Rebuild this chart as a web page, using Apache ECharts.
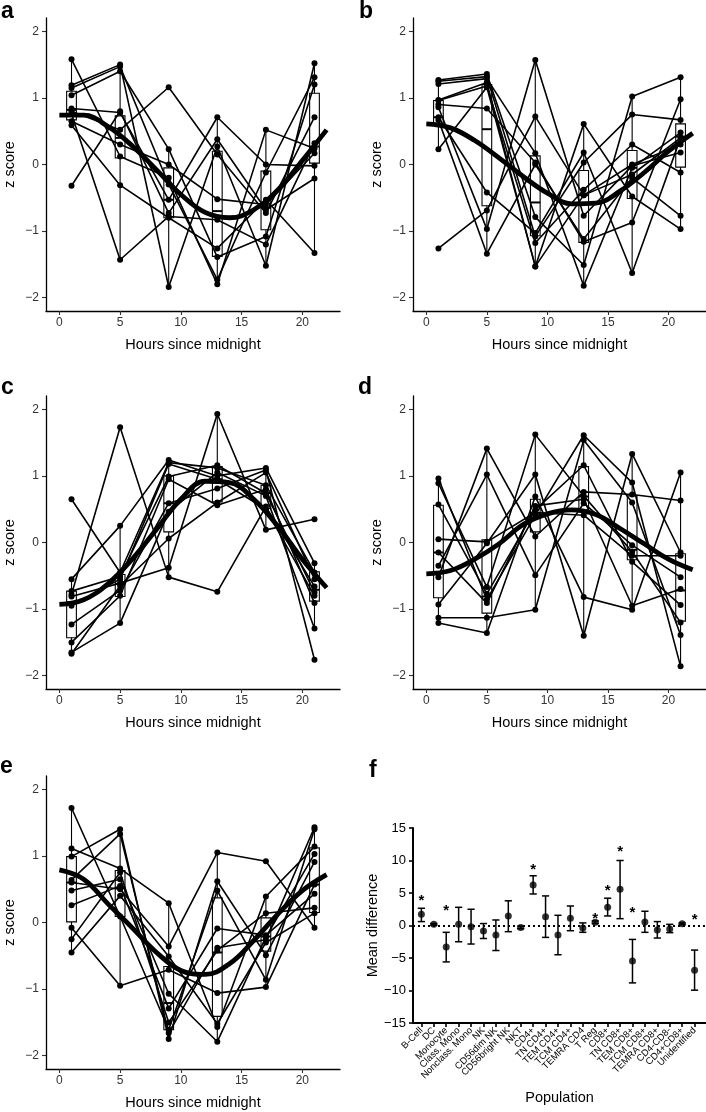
<!DOCTYPE html>
<html>
<head>
<meta charset="utf-8">
<script src="https://cdn.jsdelivr.net/npm/echarts@6/dist/echarts.min.js"></script>
<style>
html, body { margin: 0; padding: 0; background: #fff; }
#container { width: 706px; height: 1112px; }
</style>
</head>
<body>
<div id="container"></div>
<script>
var hours = [1, 5, 9, 13, 17, 21];
var hourTicks = [0, 5, 10, 15, 20];
var zTicks = [-2, -1, 0, 1, 2];
var fitHours = [0, 2, 4, 6, 8, 10, 12, 14, 16, 18, 20, 22];

// one row per subject, values at 1, 5, 9, 13, 17, 21 h
var subjectsA = [
    [1.58, 0.12, -0.20, -1.80, 0.52, 0.24],
    [1.19, 1.50, -1.84, 0.27, -1.52, 1.52],
    [1.15, 1.47, -0.30, -1.73, -0.12, 1.31],
    [1.04, 1.40, 0.23, -1.39, -1.08, 1.20],
    [0.84, 0.78, -0.53, 0.71, 0.00, -0.02],
    [0.80, 0.52, 1.16, 0.15, -0.73, 0.71],
    [0.76, -1.43, -0.78, -0.83, -1.20, 0.32],
    [0.65, 0.30, 0.00, -0.52, -0.60, 0.17],
    [0.59, -0.31, -0.80, -1.26, -0.53, -1.33],
    [-0.32, 0.80, -0.73, 0.38, -0.68, -0.21]
];
// low whisker, Q1, median, Q3, high whisker
var boxesA = [
    [0.59, 0.67, 0.82, 1.10, 1.58],
    [-1.43, 0.10, 0.40, 0.73, 1.50],
    [-1.84, -0.80, -0.53, -0.05, 0.23],
    [-1.80, -1.38, -0.70, 0.20, 0.71],
    [-1.52, -0.98, -0.65, -0.10, 0.52],
    [-1.33, 0.02, 0.27, 1.07, 1.52]
];
var fitA = [0.74, 0.74, 0.57, 0.28, -0.08, -0.45, -0.72, -0.80, -0.68, -0.38, 0.06, 0.52];

var subjectsB = [
    [1.27, 1.36, -0.79, -1.51, 1.02, 1.31],
    [1.25, 1.32, -1.08, 0.03, 0.75, 0.67],
    [1.21, 1.29, 0.17, -1.82, -0.05, 0.48],
    [0.97, 1.23, -1.53, 0.61, -0.48, -0.97],
    [0.96, 1.18, -1.18, -0.38, 0.30, -0.12],
    [0.90, 0.84, 0.03, -1.16, -0.87, 0.98],
    [0.86, -0.97, 1.57, -0.77, -0.02, 0.18],
    [0.71, -0.42, -1.03, 0.18, -1.63, 0.40],
    [0.67, -1.34, 0.00, -1.12, -0.20, -0.77],
    [0.23, 1.16, -1.53, -0.46, 0.00, 0.30],
    [-1.26, -0.69, 0.72, -0.46, -0.15, 0.40]
];
var boxesB = [
    [0.23, 0.62, 0.71, 0.96, 1.27],
    [-1.34, -0.62, 0.53, 1.20, 1.36],
    [-1.53, -1.07, -0.57, 0.13, 1.57],
    [-1.82, -1.17, -0.46, -0.09, 0.61],
    [-1.63, -0.51, -0.05, 0.21, 1.02],
    [-0.97, -0.04, 0.42, 0.61, 1.31]
];
var fitB = [0.61, 0.55, 0.36, 0.10, -0.18, -0.43, -0.59, -0.58, -0.40, -0.12, 0.20, 0.47];

var subjectsC = [
    [0.65, -0.45, 1.20, 1.12, 0.86, -0.45],
    [-0.78, 1.73, -0.52, -0.74, 0.54, -0.66],
    [-0.55, 0.25, 1.24, 1.00, 1.12, -0.31],
    [-0.73, -0.51, 0.99, 1.16, 0.74, -0.75],
    [-0.81, -0.61, -0.38, 1.93, 0.19, 0.35],
    [-1.23, -0.72, 0.59, 0.81, 1.09, -1.76],
    [-1.50, -0.80, 0.95, 0.56, 0.80, -0.91],
    [-1.65, -1.21, 0.46, 1.05, 0.70, -1.29],
    [-1.67, -0.65, 0.06, 0.60, 1.05, -0.55],
    [-0.95, -0.55, 1.18, 0.95, 0.50, -0.80]
];
var boxesC = [
    [-1.67, -1.43, -0.90, -0.73, -0.55],
    [-1.21, -0.81, -0.62, -0.48, 0.25],
    [-0.52, 0.16, 0.59, 1.00, 1.24],
    [0.56, 0.61, 0.95, 1.14, 1.93],
    [0.19, 0.51, 0.74, 0.86, 1.12],
    [-1.29, -0.88, -0.71, -0.44, -0.31]
];
var fitC = [-0.93, -0.86, -0.62, -0.25, 0.20, 0.65, 0.92, 0.90, 0.65, 0.24, -0.25, -0.68];

var subjectsD = [
    [0.96, -0.86, 0.41, 1.61, 0.90, -1.86],
    [0.89, -0.67, 1.62, 0.70, -0.14, -1.20],
    [0.57, -0.77, 0.49, 1.16, -0.29, -0.94],
    [0.05, 0.01, 0.45, 0.41, -0.20, -0.20],
    [-0.35, 1.02, -0.49, 0.59, -0.04, -0.52],
    [-0.52, 1.41, 0.09, 0.76, 0.72, 0.63],
    [-0.93, -0.01, 1.02, -1.40, 1.33, -0.15],
    [-1.13, -1.13, -1.01, 1.54, 0.60, -1.39],
    [-1.21, -1.36, 0.69, -0.82, -1.01, 1.05],
    [-0.15, -0.91, 0.55, 0.65, -0.95, -0.70]
];
var boxesD = [
    [-1.21, -0.83, -0.15, 0.56, 0.96],
    [-1.36, -1.06, -0.81, 0.04, 1.41],
    [-1.01, 0.16, 0.44, 0.65, 1.62],
    [-1.40, 0.49, 0.69, 1.14, 1.61],
    [-1.01, -0.26, -0.11, 0.70, 1.33],
    [-1.86, -1.18, -0.72, -0.17, 1.05]
];
var fitD = [-0.47, -0.42, -0.25, -0.02, 0.27, 0.43, 0.49, 0.42, 0.21, -0.02, -0.25, -0.41];

var subjectsE = [
    [1.72, 0.09, -1.61, 0.48, -0.86, 1.40],
    [1.11, 0.81, 0.29, -1.57, 0.39, 1.14],
    [0.99, 1.40, -1.75, 0.62, -0.49, 0.91],
    [0.64, 1.33, -1.66, -0.38, -0.26, 1.43],
    [0.48, 0.65, -1.07, -1.79, -0.22, 1.03],
    [0.26, 0.55, -1.29, -0.09, -0.19, 0.43],
    [-0.08, -0.95, -0.71, -1.06, -0.97, 0.57],
    [-0.25, 0.75, -1.50, -0.42, 0.14, 0.22],
    [-0.45, 0.40, -0.51, -1.52, -0.30, 0.14],
    [0.60, 0.50, -0.36, 1.05, 0.92, -0.08]
];
var boxesE = [
    [-0.45, 0.01, 0.60, 0.99, 1.72],
    [-0.95, 0.09, 0.52, 0.78, 1.40],
    [-1.75, -1.61, -1.21, -0.66, 0.29],
    [-1.79, -1.41, -0.45, 0.37, 1.05],
    [-0.97, -0.43, -0.21, 0.07, 0.39],
    [-0.08, 0.15, 0.57, 1.12, 1.43]
];
var fitE = [0.79, 0.65, 0.28, -0.08, -0.45, -0.72, -0.78, -0.62, -0.27, 0.13, 0.48, 0.72];

// panel f
var populations = ['B-Cell', 'DC', 'Monocyte', 'Class. Mono', 'Nonclass. Mono', 'NK',
    'CD56dim NK', 'CD56bright NK', 'NKT', 'CD4+', 'TN CD4+', 'TEM CD4+', 'TCM CD4+',
    'TEMRA CD4', 'T Reg', 'CD8+', 'TN CD8+', 'TEM CD8+', 'TCM CD8+', 'TEMRA CD8+',
    'CD4-CD8-', 'CD4+CD8+', 'Unidentified'];
var meanDiff = [1.72, 0.18, -3.3, 0.2, -0.2, -0.85, -1.47, 1.47, -0.3, 6.25, 1.36, -1.47,
    1.1, -0.38, 0.5, 2.8, 5.58, -5.48, 0.54, -0.7, -0.54, 0.28, -6.87];
var diffLow = [0.6, 0.05, -5.6, -2.5, -2.85, -2.0, -3.85, -0.95, -0.5, 4.85, -1.83, -4.5,
    -0.8, -1.05, 0.3, 1.47, 1.05, -8.83, -1.05, -1.93, -1.1, 0.15, -9.95];
var diffHigh = [2.65, 0.3, -1.05, 2.8, 2.5, 0.3, 0.85, 3.8, -0.1, 7.65, 4.55, 1.57,
    3.0, 0.4, 0.7, 4.2, 10.0, -2.14, 2.19, 0.6, 0.18, 0.4, -3.78];
var starIndex = [0, 2, 9, 14, 15, 16, 17, 22];
var starY = [4.45, 2.9, 9.1, 1.7, 6.0, 11.9, 2.5, 1.47];
var diffTicks = [-15, -10, -5, 0, 5, 10, 15];

var FONT = "'Liberation Sans', Arial, Helvetica, sans-serif";

var dom = document.getElementById('container');
var myChart = echarts.init(dom, null, {renderer: 'canvas'});

var panels = [
    {letter: 'a', left: 46, top: 18, subjects: subjectsA, boxes: boxesA, fit: fitA, lx: 1, ly: 0},
    {letter: 'b', left: 413, top: 18, subjects: subjectsB, boxes: boxesB, fit: fitB, lx: 359, ly: 0},
    {letter: 'c', left: 46, top: 396, subjects: subjectsC, boxes: boxesC, fit: fitC, lx: 1, ly: 376},
    {letter: 'd', left: 413, top: 396, subjects: subjectsD, boxes: boxesD, fit: fitD, lx: 358, ly: 376},
    {letter: 'e', left: 46, top: 776, subjects: subjectsE, boxes: boxesE, fit: fitE, lx: 0, ly: 755}
];

function minus(v) {
    return String(v).replace('-', '\u2212');
}

function renderBox(params, api) {
    var x = api.value(0);
    var lo = api.coord([x, api.value(1)]);
    var q1 = api.coord([x, api.value(2)]);
    var md = api.coord([x, api.value(3)]);
    var q3 = api.coord([x, api.value(4)]);
    var hi = api.coord([x, api.value(5)]);
    var half = api.size([0.8, 0])[0] / 2;
    return {
        type: 'group',
        children: [
            {type: 'line', shape: {x1: lo[0], y1: lo[1], x2: hi[0], y2: hi[1]},
                style: {stroke: '#000', lineWidth: 1.1}},
            {type: 'rect', shape: {x: q3[0] - half, y: q3[1], width: half * 2, height: q1[1] - q3[1]},
                style: {fill: '#fff', stroke: '#000', lineWidth: 1.1}},
            {type: 'line', shape: {x1: md[0] - half, y1: md[1], x2: md[0] + half, y2: md[1]},
                style: {stroke: '#000', lineWidth: 2}}
        ]
    };
}

function renderErrorBar(params, api) {
    var x = api.value(0);
    var lo = api.coord([x, api.value(1)]);
    var hi = api.coord([x, api.value(2)]);
    var cap = 3.6;
    var st = {stroke: '#000', lineWidth: 1.5};
    return {
        type: 'group',
        children: [
            {type: 'line', shape: {x1: lo[0], y1: lo[1], x2: hi[0], y2: hi[1]}, style: st},
            {type: 'line', shape: {x1: lo[0] - cap, y1: lo[1], x2: lo[0] + cap, y2: lo[1]}, style: st},
            {type: 'line', shape: {x1: hi[0] - cap, y1: hi[1], x2: hi[0] + cap, y2: hi[1]}, style: st}
        ]
    };
}

function renderStar(params, api) {
    var p = api.coord([api.value(0), api.value(1)]);
    return {
        type: 'text',
        x: p[0],
        y: p[1] + 4,
        style: {text: '*', fill: '#000', font: 'bold 15px ' + FONT, align: 'center', verticalAlign: 'middle'}
    };
}

var grids = [], xAxes = [], yAxes = [], series = [], graphics = [];

panels.forEach(function (p, k) {
    grids.push({left: p.left, top: p.top, width: 294, height: 293});
    xAxes.push({
        type: 'value', gridIndex: k, min: -1.1, max: 23.1,
        name: 'Hours since midnight', nameLocation: 'middle', nameGap: 26,
        nameTextStyle: {fontFamily: FONT, fontSize: 14.5, color: '#000'},
        axisLine: {onZero: false, lineStyle: {color: '#000', width: 1.3}},
        axisTick: {customValues: hourTicks, length: 4, lineStyle: {color: '#333', width: 1.1}},
        axisLabel: {customValues: hourTicks, margin: 6, fontFamily: FONT, fontSize: 12, color: '#333', formatter: minus},
        splitLine: {show: false}
    });
    yAxes.push({
        type: 'value', gridIndex: k, min: -2.2, max: 2.2,
        name: 'z score', nameLocation: 'middle', nameGap: 29,
        nameTextStyle: {fontFamily: FONT, fontSize: 14.5, color: '#000'},
        axisLine: {show: true, onZero: false, lineStyle: {color: '#000', width: 1.3}},
        axisTick: {show: true, customValues: zTicks, length: 4, lineStyle: {color: '#333', width: 1.1}},
        axisLabel: {customValues: zTicks, margin: 7, fontFamily: FONT, fontSize: 12, color: '#333', formatter: minus},
        splitLine: {show: false}
    });
    series.push({
        type: 'custom', xAxisIndex: k, yAxisIndex: k, z: 1,
        renderItem: renderBox,
        encode: {x: 0, y: [1, 2, 3, 4, 5]},
        data: p.boxes.map(function (b, i) { return [hours[i]].concat(b); })
    });
    p.subjects.forEach(function (s) {
        series.push({
            type: 'line', xAxisIndex: k, yAxisIndex: k, z: 2,
            symbol: 'circle', symbolSize: 6,
            itemStyle: {color: '#000'},
            lineStyle: {color: '#000', width: 1.6},
            data: s.map(function (v, i) { return [hours[i], v]; })
        });
    });
    series.push({
        type: 'line', xAxisIndex: k, yAxisIndex: k, z: 3,
        smooth: 0.4, showSymbol: false, symbol: 'none',
        lineStyle: {color: '#000', width: 4.8},
        data: p.fit.map(function (v, i) { return [fitHours[i], v]; })
    });
    graphics.push({
        type: 'text', left: p.lx, top: p.ly,
        style: {text: p.letter, font: 'bold 23px ' + FONT, fill: '#000'}
    });
});

// panel f: category labels split over two stacked axes so that none get dropped
var fk = panels.length;
var popIndex = populations.map(function (n, i) { return i; });
var evenIndex = popIndex.filter(function (i) { return i % 2 === 0; });
var oddIndex = popIndex.filter(function (i) { return i % 2 === 1; });

function popAxis(values, main) {
    return {
        type: 'value', gridIndex: fk, min: -0.675, max: 22.92, position: 'bottom',
        name: main ? 'Population' : '', nameLocation: 'middle', nameGap: 67,
        nameTextStyle: {fontFamily: FONT, fontSize: 14.5, color: '#000'},
        axisLine: {show: main, onZero: false, lineStyle: {color: '#000', width: 2}},
        axisTick: {customValues: values, length: 4, lineStyle: {color: '#000', width: 1.6}},
        axisLabel: {
            customValues: values, showMinLabel: true, showMaxLabel: true,
            rotate: 45, margin: 6, fontFamily: FONT, fontSize: 9.5, color: '#000',
            formatter: function (v) { return populations[Math.round(v)]; }
        },
        splitLine: {show: false}
    };
}

grids.push({left: 413, top: 828, width: 293, height: 195});
xAxes.push(popAxis(evenIndex, true));
xAxes.push(popAxis(oddIndex, false));
yAxes.push({
    type: 'value', gridIndex: fk, min: -15, max: 15, interval: 5,
    name: 'Mean difference', nameLocation: 'middle', nameGap: 30,
    nameTextStyle: {fontFamily: FONT, fontSize: 14.5, color: '#000'},
    axisLine: {show: true, onZero: false, lineStyle: {color: '#000', width: 2}},
    axisTick: {show: true, customValues: diffTicks, length: 4, lineStyle: {color: '#000', width: 1.6}},
    axisLabel: {customValues: diffTicks, margin: 7, fontFamily: FONT, fontSize: 13, color: '#000', formatter: minus},
    splitLine: {show: false}
});
series.push({
    type: 'custom', xAxisIndex: fk, yAxisIndex: fk, z: 2,
    renderItem: renderErrorBar,
    encode: {x: 0, y: [1, 2]},
    data: popIndex.map(function (i) { return [i, diffLow[i], diffHigh[i]]; })
});
series.push({
    type: 'scatter', xAxisIndex: fk, yAxisIndex: fk, z: 3,
    symbol: 'circle', symbolSize: 7,
    itemStyle: {color: '#000'},
    data: popIndex.map(function (i) { return [i, meanDiff[i]]; }),
    markLine: {
        silent: true, symbol: 'none', label: {show: false},
        lineStyle: {color: '#000', width: 2.2, type: [2, 3]},
        data: [{yAxis: 0}]
    }
});
series.push({
    type: 'custom', xAxisIndex: fk, yAxisIndex: fk, z: 3,
    renderItem: renderStar,
    encode: {x: 0, y: 1},
    data: starIndex.map(function (idx, i) { return [idx, starY[i]]; })
});
graphics.push({
    type: 'text', left: 369, top: 759,
    style: {text: 'f', font: 'bold 23px ' + FONT, fill: '#000'}
});

option = {
    backgroundColor: '#fff',
    animation: false,
    grid: grids,
    xAxis: xAxes,
    yAxis: yAxes,
    series: series,
    graphic: graphics
};

if (option && typeof option === 'object') {
    myChart.setOption(option, true);
}
</script>
</body>
</html>
